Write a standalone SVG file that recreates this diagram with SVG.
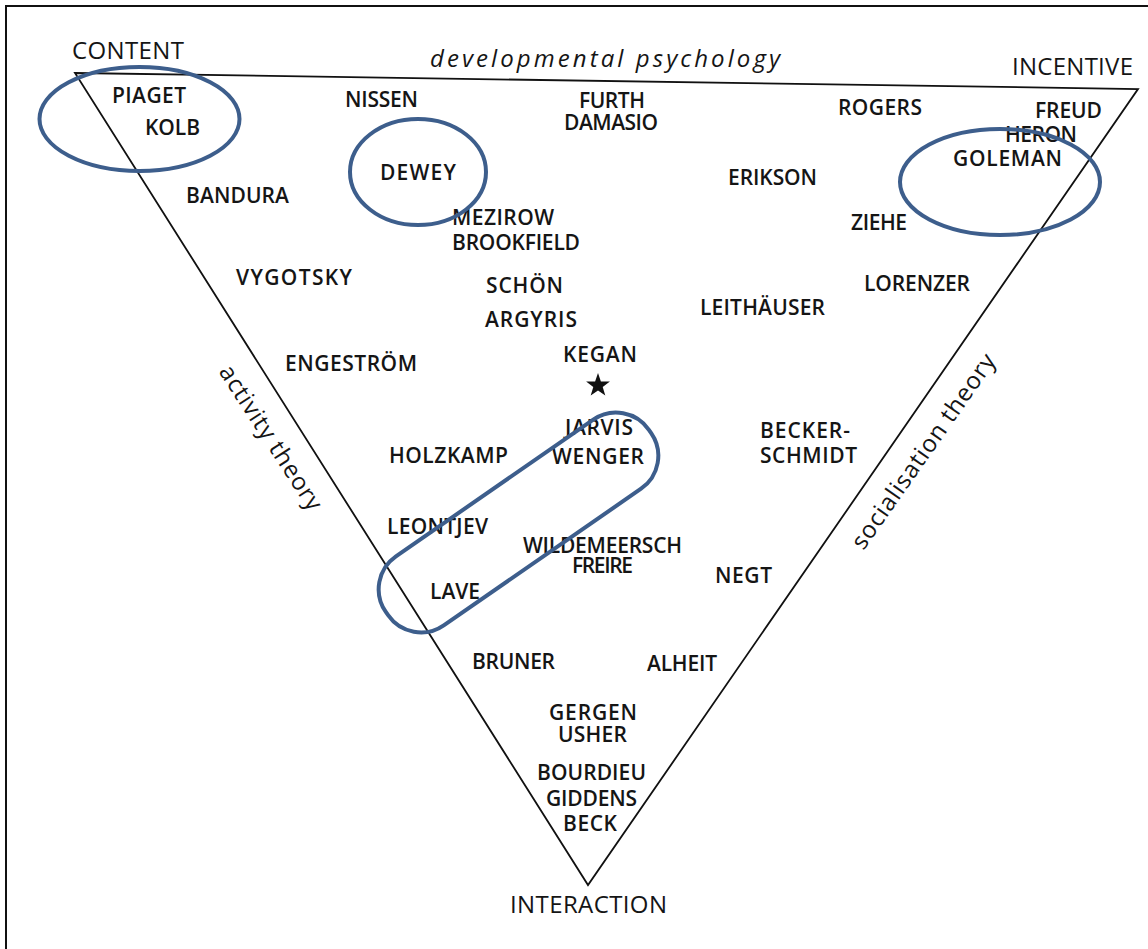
<svg xmlns="http://www.w3.org/2000/svg" width="1148" height="949" viewBox="0 0 1148 949">
  <style>
    .lbl { font-family: "Open Sans", "Noto Sans", "Liberation Sans", sans-serif; font-size: 21px; font-weight: 600; fill: #151515; text-anchor: start; }
    .corner { font-family: "Open Sans", "Noto Sans", "Liberation Sans", sans-serif; font-size: 24px; font-weight: 500; fill: #151515; }
    .side { font-family: "Open Sans", "Noto Sans", "Liberation Sans", sans-serif; font-size: 24px; font-weight: 500; fill: #151515; text-anchor: middle; }
    .edge { fill: none; stroke: #111; stroke-width: 1.8; stroke-linejoin: miter; }
    .ring { fill: none; stroke: #3d5e8c; stroke-width: 4; }
  </style>
  <rect width="1148" height="949" fill="#ffffff"/>
  <!-- page frame -->
  <path d="M6,949 V6 H1148" fill="none" stroke="#111" stroke-width="2"/>

  <!-- triangle sides -->
  <g id="connectors">
    <path class="edge" d="M75,73 L1138,89 L588,885 Z"/>
  </g>

  <!-- corner labels -->
  <g id="content"><text class="corner" x="72" y="59" textLength="112">CONTENT</text></g>
  <g id="incentive"><text class="corner" x="1012" y="75" textLength="121">INCENTIVE</text></g>
  <g id="interaction"><text class="corner" x="510" y="913" textLength="157">INTERACTION</text></g>

  <!-- side labels -->
  <g id="developmental-psychology"><text class="side" x="605" y="67" font-size="25" font-style="italic" textLength="350">developmental psychology</text></g>
  <g id="activity-theory"><text class="side" transform="translate(264,442) rotate(57)" textLength="168">activity theory</text></g>
  <g id="socialisation-theory"><text class="side" transform="translate(930,456) rotate(-55)" textLength="232">socialisation theory</text></g>

  <!-- names -->
  <g id="piaget"><text class="lbl" x="112" y="103" textLength="74">PIAGET</text></g>
  <g id="kolb"><text class="lbl" x="145" y="135" textLength="55">KOLB</text></g>
  <g id="nissen"><text class="lbl" x="345" y="107" textLength="73">NISSEN</text></g>
  <g id="furth"><text class="lbl" x="579" y="108" textLength="66">FURTH</text></g>
  <g id="damasio"><text class="lbl" x="564" y="130" textLength="94">DAMASIO</text></g>
  <g id="rogers"><text class="lbl" x="838" y="115" textLength="84">ROGERS</text></g>
  <g id="freud"><text class="lbl" x="1035" y="118" textLength="67">FREUD</text></g>
  <g id="heron"><text class="lbl" x="1005" y="142" textLength="72">HERON</text></g>
  <g id="goleman"><text class="lbl" x="953" y="166" textLength="109">GOLEMAN</text></g>
  <g id="bandura"><text class="lbl" x="186" y="203" textLength="103">BANDURA</text></g>
  <g id="dewey"><text class="lbl" x="380" y="180" textLength="76">DEWEY</text></g>
  <g id="erikson"><text class="lbl" x="728" y="185" textLength="89">ERIKSON</text></g>
  <g id="mezirow"><text class="lbl" x="452" y="225" textLength="102">MEZIROW</text></g>
  <g id="brookfield"><text class="lbl" x="452" y="250" textLength="128">BROOKFIELD</text></g>
  <g id="ziehe"><text class="lbl" x="851" y="230" textLength="56">ZIEHE</text></g>
  <g id="vygotsky"><text class="lbl" x="236" y="285" textLength="116">VYGOTSKY</text></g>
  <g id="lorenzer"><text class="lbl" x="864" y="291" textLength="106">LORENZER</text></g>
  <g id="schoen"><text class="lbl" x="486" y="293" textLength="77">SCHÖN</text></g>
  <g id="leithaeuser"><text class="lbl" x="700" y="315" textLength="125">LEITHÄUSER</text></g>
  <g id="argyris"><text class="lbl" x="485" y="327" textLength="92">ARGYRIS</text></g>
  <g id="kegan"><text class="lbl" x="563" y="362" textLength="74">KEGAN</text></g>
  <g id="engestroem"><text class="lbl" x="285" y="371" textLength="132">ENGESTRÖM</text></g>
  <g id="star"><path d="M598,373 L600.9,381.5 L609.9,381.6 L602.7,387 L605.3,395.6 L598,390.5 L590.7,395.6 L593.3,387 L586.1,381.6 L595.1,381.5 Z" fill="#111"/></g>
  <g id="jarvis"><text class="lbl" x="565" y="435" textLength="68">JARVIS</text></g>
  <g id="wenger"><text class="lbl" x="552" y="464" textLength="92">WENGER</text></g>
  <g id="holzkamp"><text class="lbl" x="389" y="463" textLength="119">HOLZKAMP</text></g>
  <g id="becker-schmidt">
    <text class="lbl" x="760" y="438" textLength="90">BECKER-</text>
    <text class="lbl" x="760" y="463" textLength="97">SCHMIDT</text>
  </g>
  <g id="leontjev"><text class="lbl" x="387" y="534" textLength="101">LEONTJEV</text></g>
  <g id="wildemeersch"><text class="lbl" x="523" y="553" textLength="159">WILDEMEERSCH</text></g>
  <g id="freire"><text class="lbl" x="572" y="573" textLength="61">FREIRE</text></g>
  <g id="negt"><text class="lbl" x="715" y="583" textLength="57">NEGT</text></g>
  <g id="lave"><text class="lbl" x="430" y="599" textLength="50">LAVE</text></g>
  <g id="bruner"><text class="lbl" x="472" y="669" textLength="83">BRUNER</text></g>
  <g id="alheit"><text class="lbl" x="647" y="671" textLength="70">ALHEIT</text></g>
  <g id="gergen"><text class="lbl" x="549" y="720" textLength="88">GERGEN</text></g>
  <g id="usher"><text class="lbl" x="558" y="742" textLength="69">USHER</text></g>
  <g id="bourdieu"><text class="lbl" x="537" y="780" textLength="109">BOURDIEU</text></g>
  <g id="giddens"><text class="lbl" x="546" y="806" textLength="91">GIDDENS</text></g>
  <g id="beck"><text class="lbl" x="563" y="831" textLength="54">BECK</text></g>

  <!-- highlight rings -->
  <g id="ring-piaget-kolb"><ellipse class="ring" cx="139.5" cy="119" rx="100" ry="52"/></g>
  <g id="ring-dewey"><ellipse class="ring" cx="418" cy="172" rx="68" ry="53"/></g>
  <g id="ring-goleman"><ellipse class="ring" cx="1000" cy="182" rx="100" ry="53"/></g>
  <g id="ring-jarvis-lave"><rect class="ring" x="-160" y="-42" width="320" height="84" rx="40" transform="translate(518.5,522.5) rotate(-34.7)"/></g>
</svg>
